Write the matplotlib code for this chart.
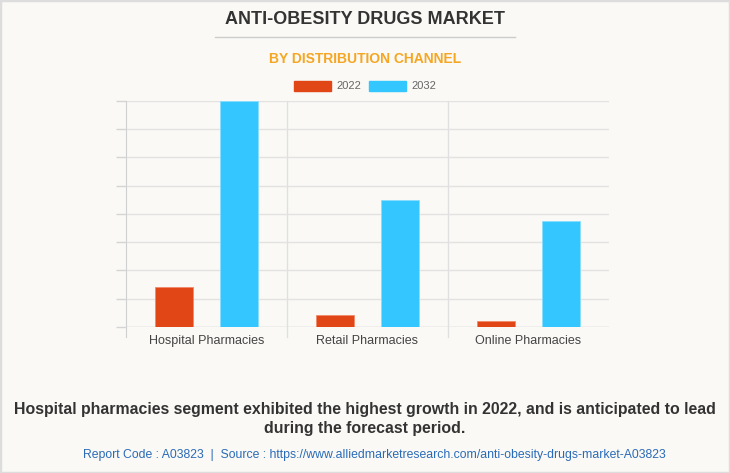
import numpy as np
import matplotlib.pyplot as plt
from matplotlib.patches import Rectangle
from matplotlib.lines import Line2D

# data (relative units, top of axis = 8)
channels = ["Hospital Pharmacies", "Retail Pharmacies", "Online Pharmacies"]
years = ["2022", "2032"]
val2022 = [1.42, 0.42, 0.21]
val2032 = [8.0, 4.5, 3.75]
colors = ["#E04616", "#33C6FF"]

bg = "#FAF9F5"
fig = plt.figure(figsize=(7.3, 4.73), dpi=100, facecolor=bg)
fig.patches.append(Rectangle((0, 0), 1, 1, transform=fig.transFigure,
                             fill=False, edgecolor="#DDDDDD", lw=2.5))

ax = fig.add_axes([126 / 730, 1 - 327 / 473, 483 / 730, 226 / 473])
ax.set_facecolor(bg)

x = np.arange(len(channels))
w = 0.236
ax.bar(x - 0.2, val2022, w, color=colors[0], edgecolor="#F08A6A", lw=0.6, zorder=3)
ax.bar(x + 0.2, val2032, w, color=colors[1], edgecolor="#8ADDFF", lw=0.6, zorder=3)

ax.set_xlim(-0.5, 2.5)
ax.set_ylim(0, 8)
ax.set_yticks(np.arange(0, 9, 1))
ax.set_yticklabels([])
ax.yaxis.grid(True, color="#E2E2E2", lw=1, zorder=0)
ax.tick_params(axis="y", length=7, color="#D5D5D5", width=1)
ax.set_xticks(x)
ax.set_xticklabels(channels, fontsize=9, color="#444444", family="Liberation Sans")
ax.tick_params(axis="x", length=0, pad=6)
for s in ["top", "right", "bottom"]:
    ax.spines[s].set_visible(False)
ax.spines["left"].set_color("#D0D0D0")
ax.spines["left"].set_bounds(-0.35, 8)
for b in [0.5, 1.5]:
    ax.plot([b, b], [-0.35, 8], color="#E0E0E0", lw=1, clip_on=False, zorder=1)
ax.axhline(0, color="#D8D8D8", lw=1, zorder=2)

fig.text(0.5, 1 - 20 / 473, "ANTI-OBESITY DRUGS MARKET", ha="center", va="center",
         fontsize=13, fontweight="bold", color="#333333", family="Liberation Sans")
fig.add_artist(Line2D([215 / 730, 515 / 730], [1 - 37 / 473] * 2,
                      color="#CCCCCC", lw=1))
fig.text(0.5, 1 - 59 / 473, "BY DISTRIBUTION CHANNEL", ha="center", va="center",
         fontsize=10, fontweight="bold", color="#F5A623", family="Liberation Sans")

handles = [Rectangle((0, 0), 1, 1, color=c) for c in colors]
fig.legend(handles, years, loc="center", bbox_to_anchor=(0.5, 1 - 86 / 473),
           ncol=2, frameon=False, labelcolor="#666666",
           handlelength=3.3, handleheight=1.0, columnspacing=0.7, handletextpad=0.5,
           prop={"family": "Liberation Sans", "size": 8})

fig.text(0.5, 1 - 409 / 473,
         "Hospital pharmacies segment exhibited the highest growth in 2022, and is anticipated to lead",
         ha="center", va="center", fontsize=11.4, fontweight="bold", color="#333333",
         family="Liberation Sans")
fig.text(0.5, 1 - 429 / 473, "during the forecast period.", ha="center", va="center",
         fontsize=11.4, fontweight="bold", color="#333333", family="Liberation Sans")
fig.text(374 / 730, 1 - 455 / 473,
         "Report Code : A03823  |  Source : https://www.alliedmarketresearch.com/anti-obesity-drugs-market-A03823",
         ha="center", va="center", fontsize=8.8, color="#2A6BB8", family="Liberation Sans")

fig.savefig("out.png", dpi=100, facecolor=bg)
